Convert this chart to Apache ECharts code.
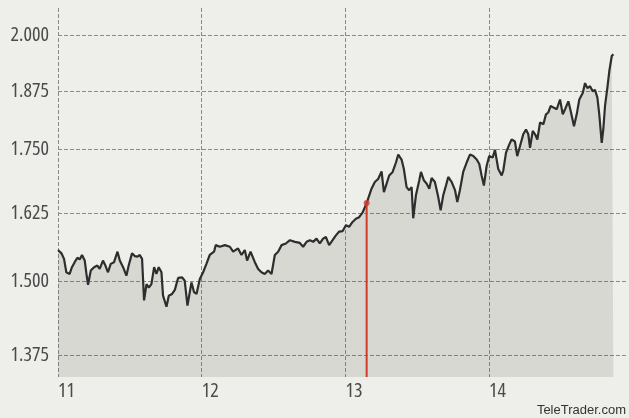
<!DOCTYPE html>
<html>
<head>
<meta charset="utf-8">
<script src="https://cdn.jsdelivr.net/npm/echarts@6/dist/echarts.min.js"></script>
<style>
html,body{margin:0;padding:0;background:#eeeeea;}
#chart{width:629px;height:418px;}
</style>
</head>
<body>
<div id="chart"></div>
<script>
var xTicks = [11, 12, 13, 14];
var yTicks = [1.375, 1.5, 1.625, 1.75, 1.875, 2.0];
var times = [
11.000,11.024,11.042,11.058,11.081,11.097,11.116,11.135,11.151,11.167,11.186,11.198,11.209,11.228,11.251,11.274,11.290,11.313,11.330,11.348,
11.367,11.390,11.414,11.430,11.453,11.476,11.492,11.515,11.534,11.553,11.569,11.585,11.599,11.616,11.632,11.650,11.669,11.685,11.701,11.720,
11.731,11.755,11.771,11.794,11.813,11.836,11.864,11.882,11.901,11.917,11.929,11.947,11.964,11.987,12.010,12.033,12.056,12.086,
12.098,12.126,12.161,12.196,12.219,12.253,12.277,12.300,12.316,12.340,12.370,12.393,12.416,12.439,12.462,12.486,12.509,12.532,12.556,12.586,
12.614,12.649,12.683,12.706,12.730,12.753,12.776,12.799,12.822,12.845,12.864,12.887,12.911,12.934,12.957,12.981,13.004,13.026,13.050,13.073,
13.096,13.120,13.148,
13.182,13.205,13.228,13.252,13.268,13.287,13.305,13.329,13.352,13.368,13.391,13.407,13.426,13.444,13.461,13.472,13.491,13.514,13.526,13.547,
13.565,13.584,13.600,13.623,13.646,13.663,13.681,13.700,13.716,13.740,13.763,13.779,13.797,13.820,13.844,13.867,13.890,13.914,13.932,13.948,
13.964,13.983,14.001,14.025,14.041,
14.064,14.088,14.099,14.118,14.141,14.157,14.180,14.196,14.215,14.238,14.257,14.273,14.285,14.304,14.320,14.336,14.355,14.378,14.396,14.412,
14.429,14.452,14.471,14.494,14.513,14.529,14.552,14.568,14.591,14.610,14.628,14.652,14.668,14.684,14.703,14.721,14.737,14.754,14.767,14.784,
14.795,14.807,14.823,14.837,14.854,14.865
];
var values = [
1.556,1.550,1.540,1.516,1.513,1.525,1.534,1.542,1.539,1.547,1.537,1.513,1.494,1.519,1.525,1.528,1.522,1.537,1.528,1.516,
1.531,1.534,1.553,1.537,1.525,1.510,1.528,1.550,1.545,1.544,1.547,1.540,1.467,1.495,1.489,1.495,1.525,1.513,1.525,1.516,
1.475,1.456,1.475,1.478,1.485,1.506,1.507,1.501,1.458,1.481,1.498,1.481,1.478,1.504,1.516,1.531,1.547,1.553,
1.565,1.562,1.565,1.562,1.553,1.559,1.547,1.556,1.537,1.553,1.534,1.522,1.516,1.513,1.519,1.513,1.547,1.553,1.565,1.568,
1.574,1.571,1.569,1.562,1.571,1.574,1.571,1.577,1.568,1.577,1.580,1.565,1.574,1.583,1.590,1.591,1.602,1.599,1.608,1.614,
1.617,1.626,1.644,
1.672,1.685,1.691,1.706,1.665,1.682,1.698,1.705,1.724,1.740,1.730,1.711,1.675,1.669,1.675,1.615,1.659,1.688,1.705,1.688,
1.682,1.672,1.693,1.685,1.656,1.630,1.659,1.678,1.695,1.685,1.669,1.646,1.669,1.705,1.724,1.740,1.737,1.730,1.721,1.698,
1.678,1.717,1.737,1.734,1.750,
1.711,1.698,1.708,1.744,1.761,1.771,1.767,1.737,1.757,1.782,1.792,1.782,1.754,1.789,1.782,1.771,1.807,1.803,1.824,1.828,
1.842,1.838,1.835,1.856,1.824,1.835,1.852,1.831,1.799,1.824,1.856,1.870,1.892,1.881,1.885,1.874,1.877,1.860,1.824,1.764,
1.792,1.842,1.881,1.919,1.953,1.957
];
var markerTime = 13.148;
var markerValue = 1.644;
var yMin = 1.341, yMax = 2.066;
var xMin = 11, xMax = 14.953;

var seriesData = times.map(function (t, i) { return [t, values[i]]; });

var chart = echarts.init(document.getElementById('chart'), null, {renderer: 'canvas'});
chart.setOption({
  backgroundColor: '#eeeeea',
  animation: false,
  grid: {left: 58, right: 3, top: 8, bottom: 41, containLabel: false},
  xAxis: {
    type: 'value', min: xMin, max: xMax,
    axisLine: {show: false},
    axisTick: {show: false, customValues: xTicks},
    axisLabel: {
      customValues: xTicks, color: '#4a4a4a', fontFamily: '"Open Sans"', fontStyle: 'condensed',
      fontSize: 20, align: 'left', margin: 4,
      formatter: function (v) { return String(v); }
    },
    splitLine: {show: true, lineStyle: {color: '#8a8a88', type: [4, 2], width: 1}}
  },
  yAxis: {
    type: 'log', logBase: 10, min: yMin, max: yMax,
    axisLine: {show: false},
    axisTick: {show: false, customValues: yTicks},
    axisLabel: {
      customValues: yTicks, color: '#4a4a4a', fontFamily: '"Open Sans"', fontStyle: 'condensed',
      fontSize: 20, margin: 9,
      formatter: function (v) { return Number(v).toFixed(3); }
    },
    splitLine: {show: true, lineStyle: {color: '#8a8a88', type: [4, 2], width: 1}}
  },
  series: [
    {
      type: 'line', data: seriesData, showSymbol: false, symbol: 'none',
      lineStyle: {color: '#2e2e2e', width: 2.2},
      areaStyle: {color: 'rgba(60,60,50,0.12)', opacity: 1, origin: 'start'},
      z: 3
    },
    {
      type: 'line', data: [[markerTime, yMin], [markerTime, markerValue]],
      showSymbol: false, symbol: 'none',
      lineStyle: {color: '#d23a2c', width: 2}, z: 4
    },
    {
      type: 'scatter', data: [[markerTime, markerValue]],
      symbolSize: 6, itemStyle: {color: '#d23a2c'}, z: 5
    }
  ],
  graphic: [{
    type: 'text', right: 3, bottom: 1,
    style: {text: 'TeleTrader.com', fill: '#333', font: '13px "Liberation Sans", Arial, sans-serif'}
  }]
});
</script>
</body>
</html>
